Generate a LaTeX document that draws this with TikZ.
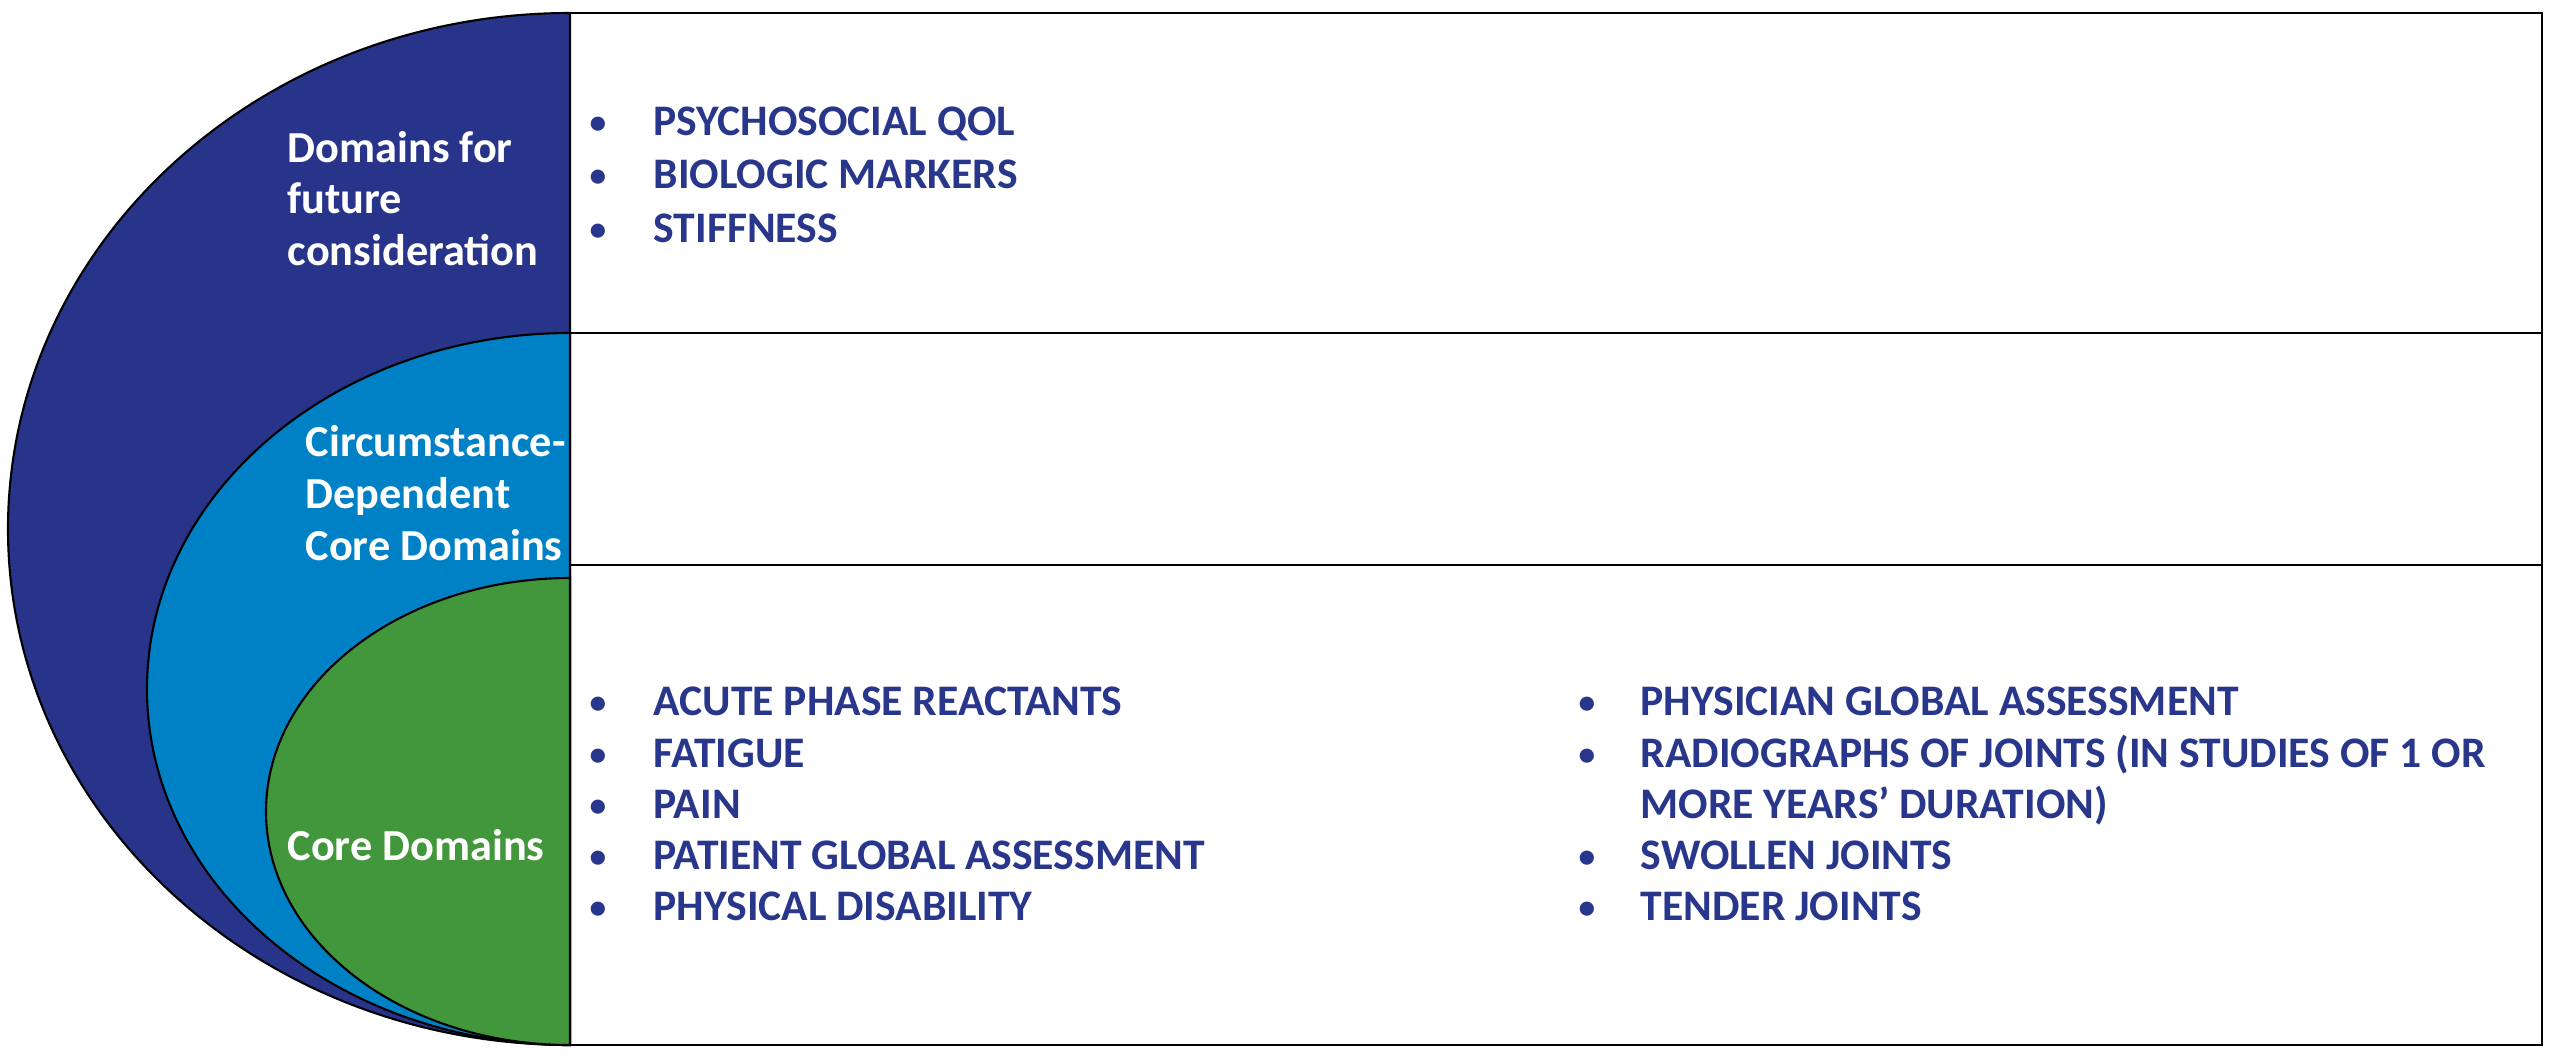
\documentclass[tikz,border=0pt]{standalone}
\usepackage{fontspec}
\setmainfont{Carlito}
\definecolor{dblue}{RGB}{40,52,138}
\definecolor{lblue}{RGB}{0,129,198}
\definecolor{cgreen}{RGB}{66,150,59}
\definecolor{tblue}{RGB}{40,54,140}
\begin{document}
\begin{tikzpicture}[x=0.01cm,y=0.01cm,
  shell/.style={draw=black,line width=0.6pt},
  wlabel/.style={anchor=base west,inner sep=0pt,text=white,font=\fontsize{12.6}{14.8}\selectfont\bfseries},
  item/.style={anchor=base west,inner sep=0pt,text=tblue,font=\fontsize{12.4}{14.8}\selectfont\bfseries},
  bul/.style={anchor=base,inner sep=0pt,text=tblue,font=\fontsize{9.5}{11}\selectfont\bfseries},
  frame/.style={draw=black,line width=0.8pt}]
\useasboundingbox (0,0) rectangle (2560,1059);
\fill[white] (0,0) rectangle (2560,1059);
% shells
\path[shell,fill=dblue] (570,1046) arc[start angle=90,end angle=270,x radius=562,y radius=516] -- cycle;
\path[shell,fill=lblue] (570,726) arc[start angle=90,end angle=270,x radius=423,y radius=356] -- cycle;
\path[shell,fill=cgreen] (570,481) arc[start angle=90,end angle=270,x radius=304,y radius=233.5] -- cycle;
% frame
\coordinate (tl) at (570,1046);
\coordinate (br) at (2542,14);
\draw[frame] (tl) rectangle (br);
\coordinate (m1l) at (570,726); \coordinate (m1r) at (2542,726);
\coordinate (m2l) at (570,494); \coordinate (m2r) at (2542,494);
\draw[frame] (m1l) -- (m1r);
\draw[frame] (m2l) -- (m2r);
% white labels
\node[wlabel] (f1) at (287,897) {Domains for};
\node[wlabel] (f2) at (287,846) {future};
\node[wlabel] (f3) at (287,794) {consideration};
\node[wlabel] (c1) at (305,603) {Circumstance-};
\node[wlabel] (c2) at (305,551) {Dependent};
\node[wlabel] (c3) at (305,499) {Core Domains};
\node[wlabel] (k1) at (287,199) {Core Domains};
% top list
\node[bul] (b1) at (598,926) {•}; \node[item] (t1) at (653,924) {PSYCHOSOCIAL QOL};
\node[bul] (b2) at (598,873) {•}; \node[item] (t2) at (653,871) {BIOLOGIC MARKERS};
\node[bul] (b3) at (598,819) {•}; \node[item] (t3) at (653,817) {STIFFNESS};
% core list left
\node[bul] (l1b) at (598,346) {•}; \node[item] (l1) at (653,344) {ACUTE PHASE REACTANTS};
\node[bul] (l2b) at (598,294) {•}; \node[item] (l2) at (653,292) {FATIGUE};
\node[bul] (l3b) at (598,243) {•}; \node[item] (l3) at (653,241) {PAIN};
\node[bul] (l4b) at (598,192) {•}; \node[item] (l4) at (653,190) {PATIENT GLOBAL ASSESSMENT};
\node[bul] (l5b) at (598,141) {•}; \node[item] (l5) at (653,139) {PHYSICAL DISABILITY};
% core list right
\node[bul] (r1b) at (1587,346) {•}; \node[item] (r1) at (1640,344) {PHYSICIAN GLOBAL ASSESSMENT};
\node[bul] (r2b) at (1587,294) {•}; \node[item] (r2) at (1640,292) {RADIOGRAPHS OF JOINTS (IN STUDIES OF 1 OR};
\node[item] (r2c) at (1640,241) {MORE YEARS’ DURATION)};
\node[bul] (r3b) at (1587,192) {•}; \node[item] (r3) at (1640,190) {SWOLLEN JOINTS};
\node[bul] (r4b) at (1587,141) {•}; \node[item] (r4) at (1640,139) {TENDER JOINTS};
\end{tikzpicture}
\end{document}
